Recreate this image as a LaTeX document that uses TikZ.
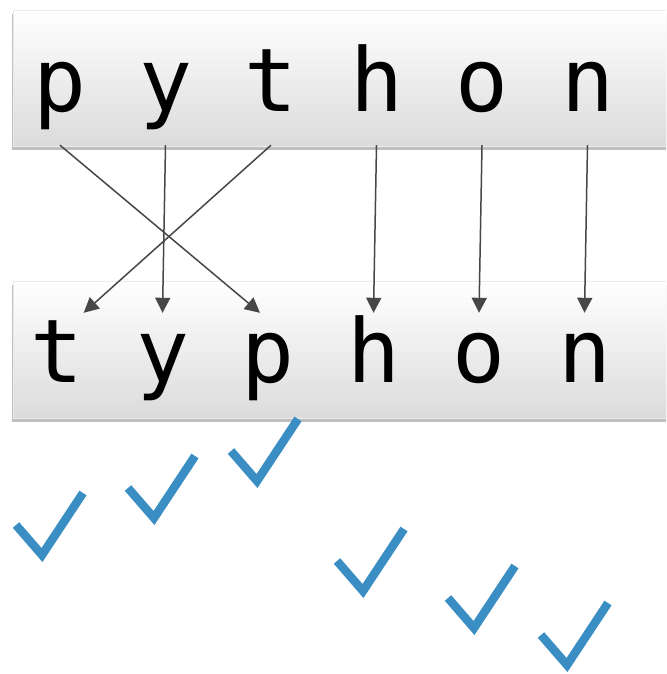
\documentclass[tikz,border=0pt]{standalone}
\usepackage{fontspec}
\setmonofont{DejaVu Sans Mono}
\usetikzlibrary{arrows.meta,positioning,shadows}
\definecolor{tickblue}{HTML}{3A8EC4}
\definecolor{arrowgray}{HTML}{474747}
\tikzstyle{Box} = [rectangle, anchor=north west, minimum width=680pt, draw=black!8, top color=white, middle color=white!98!black, bottom color=black!14, drop shadow={shadow xshift=-1pt, shadow yshift=-4pt, opacity=0.5}]
\tikzstyle{Letter} = [font=\ttfamily\fontsize{88}{88}\selectfont, inner sep=0pt, text height=69pt, text depth=33pt]
\tikzstyle{arrow} = [arrowgray, line width=1.5pt, -{Triangle[length=15pt,width=15pt]}]
\tikzstyle{Tick} = [tickblue, line width=8.5pt, line join=miter]

\begin{document}
\begin{tikzpicture}[x=1pt, y=-1pt, node distance=105.5pt]
\useasboundingbox (0,0) rectangle (666,674);
\clip (0,0) rectangle (666,674);
\fill[white] (0,0) rectangle (666,674);

\node (Top Word)[Box, minimum height=136pt] at (13,10) {};
\node (Bottom Word)[Box, minimum height=137pt] at (13,281) {};

\node (Top p)[Letter] at (60,94) {p};
\node (Top y)[Letter, right of = Top p]{y};
\node (Top t)[Letter, right of = Top y]{t};
\node (Top h)[Letter, right of = Top t]{h};
\node (Top o)[Letter, right of = Top h]{o};
\node (Top n)[Letter, right of = Top o]{n};

\node (Bottom t)[Letter] at (57,364) {t};
\node (Bottom y)[Letter, right of = Bottom t]{y};
\node (Bottom p)[Letter, right of = Bottom y]{p};
\node (Bottom h)[Letter, right of = Bottom p]{h};
\node (Bottom o)[Letter, right of = Bottom h]{o};
\node (Bottom n)[Letter, right of = Bottom o]{n};

\draw[arrow](Top p.south)--([xshift=-8pt]Bottom p.north);
\draw[arrow](Top y.south)--(Bottom y.north);
\draw[arrow](Top t.south)--(Bottom t.north east);
\draw[arrow](Top h.south)--(Bottom h.north);
\draw[arrow](Top o.south)--(Bottom o.north);
\draw[arrow](Top n.south)--(Bottom n.north);

\foreach \x/\y in {42/555,154/518,257/481,363/591,474/628,567/665}
  \draw[Tick](\x-26,\y-30)--(\x,\y)--(\x+41,\y-62);

\end{tikzpicture}
\end{document}
